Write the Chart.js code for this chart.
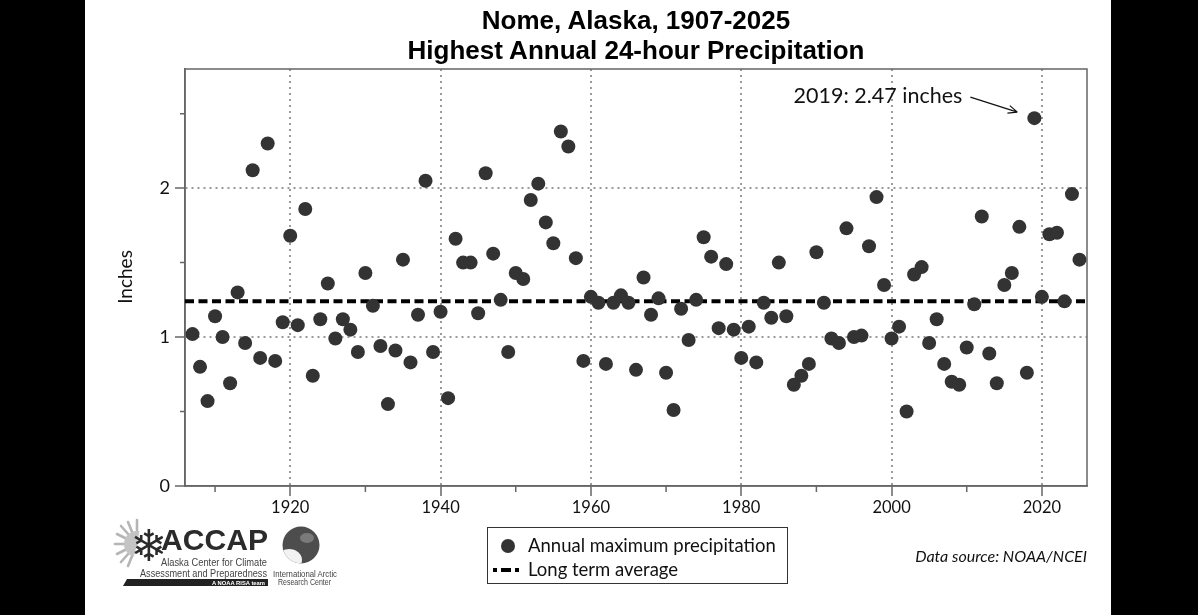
<!DOCTYPE html>
<html>
<head>
<meta charset="utf-8">
<script src="https://cdn.jsdelivr.net/npm/chart.js@4/dist/chart.umd.min.js"></script>
<style>
  html,body{margin:0;padding:0;background:#000;width:1198px;height:615px;overflow:hidden;}
  #panel{position:absolute;left:85px;top:0;width:1026px;height:615px;background:#fff;overflow:hidden;}
  #wrap{position:absolute;left:0;top:0;width:1026px;height:615px;}
  .title{position:absolute;left:151px;width:800px;text-align:center;font-family:"Liberation Sans",Arial,sans-serif;font-weight:bold;font-size:26px;line-height:30px;color:#000;white-space:nowrap;}
  #ylab{position:absolute;left:39px;top:277px;transform:translate(-50%,-50%) rotate(-90deg);font-family:Lato,"Open Sans",sans-serif;font-size:19px;color:#111;white-space:nowrap;}
  #legend{position:absolute;left:402px;top:527px;width:301px;height:57px;border:1px solid #333;box-sizing:border-box;font-family:Lato,"Open Sans",sans-serif;font-size:18.5px;color:#111;}
  #legend .row{position:absolute;left:40px;white-space:nowrap;line-height:22px;}
  #legend .dot{position:absolute;left:13px;top:11px;width:14px;height:14px;border-radius:50%;background:#333;}
  #legend .dash{position:absolute;top:40px;height:4px;background:#000;}
  #src{position:absolute;right:24px;top:546px;font-family:Lato,"Open Sans",sans-serif;font-style:italic;font-size:16px;color:#111;white-space:nowrap;}
  #logos{position:absolute;left:0;top:0;}
</style>
</head>
<body>
<div id="panel">
  <div id="wrap"><canvas id="c"></canvas></div>
  <div class="title" style="top:5px">Nome, Alaska, 1907-2025</div>
  <div class="title" style="top:35px">Highest Annual 24-hour Precipitation</div>
  <div id="ylab">Inches</div>
  <div id="legend">
    <div class="dot"></div>
    <div class="row" style="top:6px">Annual maximum precipitation</div>
    <div class="dash" style="left:5px;width:4px"></div>
    <div class="dash" style="left:13px;width:10px"></div>
    <div class="dash" style="left:27px;width:4px"></div>
    <div class="row" style="top:30px">Long term average</div>
  </div>
  <div id="src">Data source: NOAA/NCEI</div>
  <svg id="logos" width="400" height="615" viewBox="0 0 400 615">
    <defs>
      <clipPath id="globeClip"><circle cx="216" cy="545" r="18.5"/></clipPath>
      <clipPath id="sunClip"><polygon points="20,515 58,515 46,570 20,570"/></clipPath>
    </defs>
    <!-- ACCAP icon: sun + snowflake -->
    <g clip-path="url(#sunClip)">
      <g stroke="#b5b5b5" stroke-width="2.6" stroke-linecap="round">
        <line x1="52" y1="544" x2="30" y2="544"/>
        <line x1="52" y1="544" x2="32" y2="534"/>
        <line x1="52" y1="544" x2="36" y2="526"/>
        <line x1="52" y1="544" x2="43" y2="522"/>
        <line x1="52" y1="544" x2="52" y2="520"/>
        <line x1="52" y1="544" x2="32" y2="554"/>
        <line x1="52" y1="544" x2="36" y2="562"/>
        <line x1="52" y1="544" x2="43" y2="566"/>
      </g>
      <circle cx="52" cy="544" r="13" fill="#c4c4c4"/>
    </g>
    <text x="64" y="561" font-family="DejaVu Sans" font-size="44" fill="#2b2b2b" text-anchor="middle">❄</text>
    <text x="76" y="550" font-family="Liberation Sans,Arial,sans-serif" font-weight="bold" font-size="30" fill="#2b2b2b" textLength="107" lengthAdjust="spacingAndGlyphs">ACCAP</text>
    <text x="76" y="566" font-family="Liberation Sans,Arial,sans-serif" font-size="11" fill="#444" textLength="106" lengthAdjust="spacingAndGlyphs">Alaska Center for Climate</text>
    <text x="55" y="576.5" font-family="Liberation Sans,Arial,sans-serif" font-size="11" fill="#444" textLength="127" lengthAdjust="spacingAndGlyphs">Assessment and Preparedness</text>
    <polygon points="42,579 183,579 183,586 38,586" fill="#222"/>
    <text x="127" y="584.6" font-family="Liberation Sans,Arial,sans-serif" font-weight="bold" font-size="5.5" fill="#fff" textLength="53" lengthAdjust="spacingAndGlyphs">A NOAA RISA team</text>
    <!-- IARC globe -->
    <circle cx="216" cy="545" r="18.5" fill="#4d4d4d"/>
    <g clip-path="url(#globeClip)">
      <ellipse cx="204" cy="560" rx="13" ry="11" fill="#f2f2f2"/>
      <ellipse cx="222" cy="538" rx="7" ry="5" fill="#7a7a7a"/>
    </g>
    <text x="188" y="576.5" font-family="Liberation Sans,Arial,sans-serif" font-size="9" fill="#444" textLength="64" lengthAdjust="spacingAndGlyphs">International Arctic</text>
    <text x="193" y="585" font-family="Liberation Sans,Arial,sans-serif" font-size="9" fill="#444" textLength="53" lengthAdjust="spacingAndGlyphs">Research Center</text>
  </svg>
</div>
<script>
// ---- data ----
const firstYear = 1907;
const precipInches = [
  1.02, 0.80, 0.57, 1.14, 1.00, 0.69, 1.30, 0.96, 2.12, 0.86, // 1907-1916
  2.30, 0.84, 1.10, 1.68, 1.08, 1.86, 0.74, 1.12, 1.36, 0.99, // 1917-1926
  1.12, 1.05, 0.90, 1.43, 1.21, 0.94, 0.55, 0.91, 1.52, 0.83, // 1927-1936
  1.15, 2.05, 0.90, 1.17, 0.59, 1.66, 1.50, 1.50, 1.16, 2.10, // 1937-1946
  1.56, 1.25, 0.90, 1.43, 1.39, 1.92, 2.03, 1.77, 1.63, 2.38, // 1947-1956
  2.28, 1.53, 0.84, 1.27, 1.23, 0.82, 1.23, 1.28, 1.23, 0.78, // 1957-1966
  1.40, 1.15, 1.26, 0.76, 0.51, 1.19, 0.98, 1.25, 1.67, 1.54, // 1967-1976
  1.06, 1.49, 1.05, 0.86, 1.07, 0.83, 1.23, 1.13, 1.50, 1.14, // 1977-1986
  0.68, 0.74, 0.82, 1.57, 1.23, 0.99, 0.96, 1.73, 1.00, 1.01, // 1987-1996
  1.61, 1.94, 1.35, 0.99, 1.07, 0.50, 1.42, 1.47, 0.96, 1.12, // 1997-2006
  0.82, 0.70, 0.68, 0.93, 1.22, 1.81, 0.89, 0.69, 1.35, 1.43, // 2007-2016
  1.74, 0.76, 2.47, 1.27, 1.69, 1.70, 1.24, 1.96, 1.52        // 2017-2025
];
const years = precipInches.map((_, i) => firstYear + i);
const averageInches = 1.24;
const averageSpan = [1906, 2026];
const xTickValues = [1910, 1920, 1930, 1940, 1950, 1960, 1970, 1980, 1990, 2000, 2010, 2020];
const yTickValues = [0, 0.5, 1, 1.5, 2, 2.5];
const annotation = { year: 2019, value: 2.47, text: '2019: 2.47 inches' };

const points = years.map((y, i) => ({ x: y, y: precipInches[i] }));
const avgLine = averageSpan.map(x => ({ x: x, y: averageInches }));

const isMajorX = v => v % 20 === 0;
const isMajorY = v => Number.isInteger(v);

const framePlugin = {
  id: 'frame',
  beforeDatasetsDraw(chart) {
    const { ctx, chartArea: a } = chart;
    ctx.save();
    ctx.strokeStyle = '#666';
    ctx.lineWidth = 1.5;
    ctx.strokeRect(a.left, a.top, a.right - a.left, a.bottom - a.top);
    ctx.beginPath();
    const xs = chart.scales.x, ys = chart.scales.y;
    xTickValues.filter(v => !isMajorX(v)).forEach(v => {
      const px = xs.getPixelForValue(v);
      ctx.moveTo(px, a.bottom); ctx.lineTo(px, a.bottom + 6);
    });
    yTickValues.filter(v => !isMajorY(v)).forEach(v => {
      const py = ys.getPixelForValue(v);
      ctx.moveTo(a.left, py); ctx.lineTo(a.left - 5, py);
    });
    ctx.stroke();
    ctx.restore();
  },
  afterDraw(chart) {
    const { ctx } = chart;
    const px = chart.scales.x.getPixelForValue(annotation.year);
    const py = chart.scales.y.getPixelForValue(annotation.value);
    ctx.save();
    ctx.font = '21.5px Lato, "Open Sans", sans-serif';
    ctx.fillStyle = '#111';
    ctx.textAlign = 'right';
    ctx.textBaseline = 'middle';
    ctx.fillText(annotation.text, px - 72, py - 22);
    const x1 = px - 64, y1 = py - 21, x2 = px - 17, y2 = py - 6;
    ctx.strokeStyle = '#111';
    ctx.lineWidth = 1.2;
    ctx.beginPath();
    ctx.moveTo(x1, y1); ctx.lineTo(x2, y2);
    const ang = Math.atan2(y2 - y1, x2 - x1);
    const hl = 10;
    ctx.moveTo(x2, y2); ctx.lineTo(x2 - hl * Math.cos(ang - 0.4), y2 - hl * Math.sin(ang - 0.4));
    ctx.moveTo(x2, y2); ctx.lineTo(x2 - hl * Math.cos(ang + 0.4), y2 - hl * Math.sin(ang + 0.4));
    ctx.stroke();
    ctx.restore();
  }
};

new Chart(document.getElementById('c'), {
  type: 'scatter',
  data: {
    datasets: [
      {
        label: 'Annual maximum precipitation',
        data: points,
        backgroundColor: '#333',
        borderColor: '#333',
        pointRadius: 7,
        pointHoverRadius: 7,
        borderWidth: 0
      },
      {
        type: 'line',
        label: 'Long term average',
        data: avgLine,
        borderColor: '#000',
        borderWidth: 4,
        borderDash: [9, 4.5],
        pointRadius: 0,
        fill: false
      }
    ]
  },
  options: {
    responsive: true,
    maintainAspectRatio: false,
    animation: false,
    devicePixelRatio: 1,
    layout: { padding: { top: 69, right: 24, left: 0, bottom: 0 } },
    plugins: { legend: { display: false }, tooltip: { enabled: false }, title: { display: false } },
    scales: {
      x: {
        type: 'linear',
        min: 1906, max: 2026,
        afterFit(scale) { scale.height = 129; },
        afterBuildTicks(scale) { scale.ticks = xTickValues.map(v => ({ value: v })); },
        ticks: {
          autoSkip: false, maxRotation: 0, padding: 2,
          font: { family: 'Lato, "Open Sans", sans-serif', size: 16.5 },
          color: '#111',
          callback: v => isMajorX(v) ? String(v) : ''
        },
        grid: {
          color: c => (c.tick && isMajorX(c.tick.value)) ? '#9a9a9a' : 'rgba(0,0,0,0)',
          lineWidth: 2,
          tickLength: 10,
          tickWidth: 1.5,
          tickColor: c => (c.tick && isMajorX(c.tick.value)) ? '#666' : 'rgba(0,0,0,0)'
        },
        border: { display: true, color: '#666', width: 1.5, dash: [2, 4] }
      },
      y: {
        type: 'linear',
        min: 0, max: 2.8,
        afterFit(scale) { scale.width = 100; },
        afterBuildTicks(scale) { scale.ticks = yTickValues.map(v => ({ value: v })); },
        ticks: {
          autoSkip: false, padding: 5,
          font: { family: 'Lato, "Open Sans", sans-serif', size: 18 },
          color: '#111',
          callback: v => isMajorY(v) ? String(v) : ''
        },
        grid: {
          color: c => (c.tick && isMajorY(c.tick.value) && c.tick.value !== 0) ? '#9a9a9a' : 'rgba(0,0,0,0)',
          lineWidth: 2,
          tickLength: 10,
          tickWidth: 1.5,
          tickColor: c => (c.tick && isMajorY(c.tick.value)) ? '#666' : 'rgba(0,0,0,0)'
        },
        border: { display: true, color: '#666', width: 1.5, dash: [2, 4] }
      }
    }
  },
  plugins: [framePlugin]
});
</script>
</body>
</html>
